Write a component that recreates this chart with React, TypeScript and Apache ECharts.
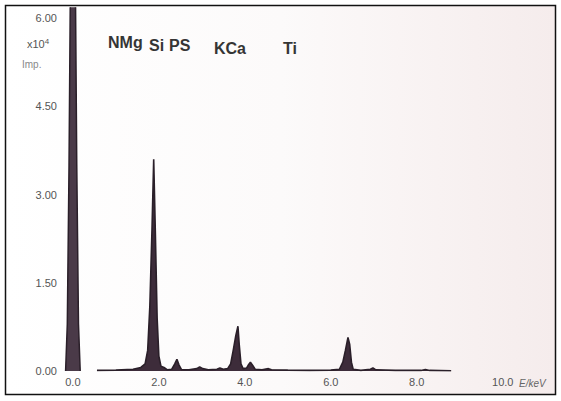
import React, { useEffect, useRef } from "react";
import * as echarts from "echarts";

// Zero-energy (noise) peak, keV / x10^4 impulses
const zeroPeakKeV = [-0.17, -0.13, -0.09, -0.06, 0.06, 0.09, 0.13, 0.17];
const zeroPeakImp = [0, 0.8, 3.5, 6.4, 6.4, 3.5, 0.8, 0];

// Main spectrum, keV / x10^4 impulses
const spectrumKeV = [
  0.56, 1.0, 1.4, 1.58, 1.68, 1.74, 1.79, 1.84, 1.88, 1.92, 1.96, 2.0, 2.05, 2.12, 2.2,
  2.3, 2.37, 2.42, 2.47, 2.53, 2.7, 2.88, 2.95, 3.02, 3.15, 3.35, 3.42, 3.5, 3.6, 3.67,
  3.73, 3.79, 3.84, 3.87, 3.91, 3.96, 4.04, 4.09, 4.13, 4.18, 4.24, 4.4, 4.55, 4.62, 5.0,
  5.5, 6.0, 6.2, 6.28, 6.34, 6.4, 6.44, 6.48, 6.52, 6.7, 6.92, 6.98, 7.05, 7.5, 8.1,
  8.2, 8.3, 8.8,
];
const spectrumImp = [
  0.01, 0.015, 0.03, 0.06, 0.12, 0.35, 1.1, 2.4, 3.6, 2.3, 0.9, 0.25, 0.08, 0.06, 0.02,
  0.03, 0.12, 0.2, 0.1, 0.02, 0.02, 0.04, 0.07, 0.04, 0.02, 0.03, 0.05, 0.03, 0.04, 0.12,
  0.35, 0.6, 0.76, 0.45, 0.12, 0.04, 0.05, 0.11, 0.15, 0.1, 0.03, 0.02, 0.04, 0.02, 0.015,
  0.01, 0.015, 0.03, 0.15, 0.35, 0.57, 0.45, 0.15, 0.03, 0.01, 0.03, 0.05, 0.02, 0.01, 0.01,
  0.025, 0.01, 0.005,
];

const yTicks = [0, 1.5, 3, 4.5, 6];
const xTicks = [0, 2, 4, 6, 8, 10];

const elementLabels = ["NMg", "Si", "PS", "KCa", "Ti"];

export default function App() {
  const ref = useRef<HTMLDivElement>(null);
  useEffect(() => {
    if (!ref.current) return;
    const chart = echarts.init(ref.current, null, { renderer: "svg" });
    const zero = zeroPeakKeV.map((k, i) => [k, zeroPeakImp[i]]);
    const spec = spectrumKeV.map((k, i) => [k, spectrumImp[i]]);
    const labelPos: [number, number][] = [
      [108, 34],
      [149, 37],
      [169, 37],
      [214, 40],
      [283, 40],
    ];
    chart.setOption({
      animation: false,
      backgroundColor: "#ffffff",
      grid: { left: 60, right: 11, top: 8, bottom: 30 },
      xAxis: {
        type: "value",
        min: -0.3,
        max: 11.1,
        axisLine: { show: false },
        axisTick: { show: false },
        splitLine: { show: false },
        axisLabel: {
          customValues: xTicks,
          formatter: (v: number) => v.toFixed(1),
          color: "#555",
          fontSize: 11,
          fontFamily: "Liberation Sans",
          margin: 5,
        },
      },
      yAxis: {
        type: "value",
        min: 0,
        max: 6.17,
        axisLine: { show: false },
        axisTick: { show: false },
        splitLine: { show: false },
        axisLabel: {
          customValues: yTicks,
          formatter: (v: number) => v.toFixed(2),
          color: "#555",
          fontSize: 11,
          fontFamily: "Liberation Sans",
          margin: 3,
        },
      },
      graphic: [
        {
          type: "rect",
          z: -10,
          silent: true,
          shape: { x: 6, y: 6, width: 549, height: 388 },
          style: {
            fill: new echarts.graphic.LinearGradient(0, 0, 1, 0, [
              { offset: 0, color: "#ffffff" },
              { offset: 0.5, color: "#fcfafa" },
              { offset: 1, color: "#f5ecec" },
            ]),
            stroke: "none",
          },
        },
        {
          type: "rect",
          z: 100,
          silent: true,
          shape: { x: 5.5, y: 5.5, width: 550, height: 389 },
          style: { fill: "none", stroke: "#111", lineWidth: 1.5 },
        },
        {
          type: "text",
          left: 27,
          top: 37,
          style: {
            text: "x10{s|4}",
            fill: "#555",
            font: "11px 'Liberation Sans'",
            rich: { s: { fontSize: 8, verticalAlign: "top", fill: "#555", padding: [0, 0, 6, 0] } },
          },
        },
        {
          type: "text",
          left: 22,
          top: 59,
          style: { text: "Imp.", fill: "#888", font: "10px 'Liberation Sans'" },
        },
        {
          type: "text",
          left: 519,
          top: 378,
          style: { text: "E/keV", fill: "#666", font: "italic 10px 'Liberation Sans'" },
        },
        ...elementLabels.map((t, i) => ({
          type: "text",
          left: labelPos[i][0],
          top: labelPos[i][1],
          style: {
            text: t,
            fill: "#353535",
            font: "bold 16px 'Liberation Sans'",
          },
        })),
      ],
      series: [
        {
          type: "line",
          data: zero,
          symbol: "none",
          lineStyle: { color: "#2a1f29", width: 1.5 },
          areaStyle: { color: "#4a3a48", opacity: 1 },
        },
        {
          type: "line",
          data: spec,
          symbol: "none",
          lineStyle: { color: "#2a1f29", width: 1.6 },
          areaStyle: { color: "#3d2c3a", opacity: 1 },
        },
      ],
    });
    return () => chart.dispose();
  }, []);
  return (
    <div
      ref={ref}
      style={{ position: "absolute", left: 0, top: 0, width: 561, height: 401 }}
    />
  );
}
